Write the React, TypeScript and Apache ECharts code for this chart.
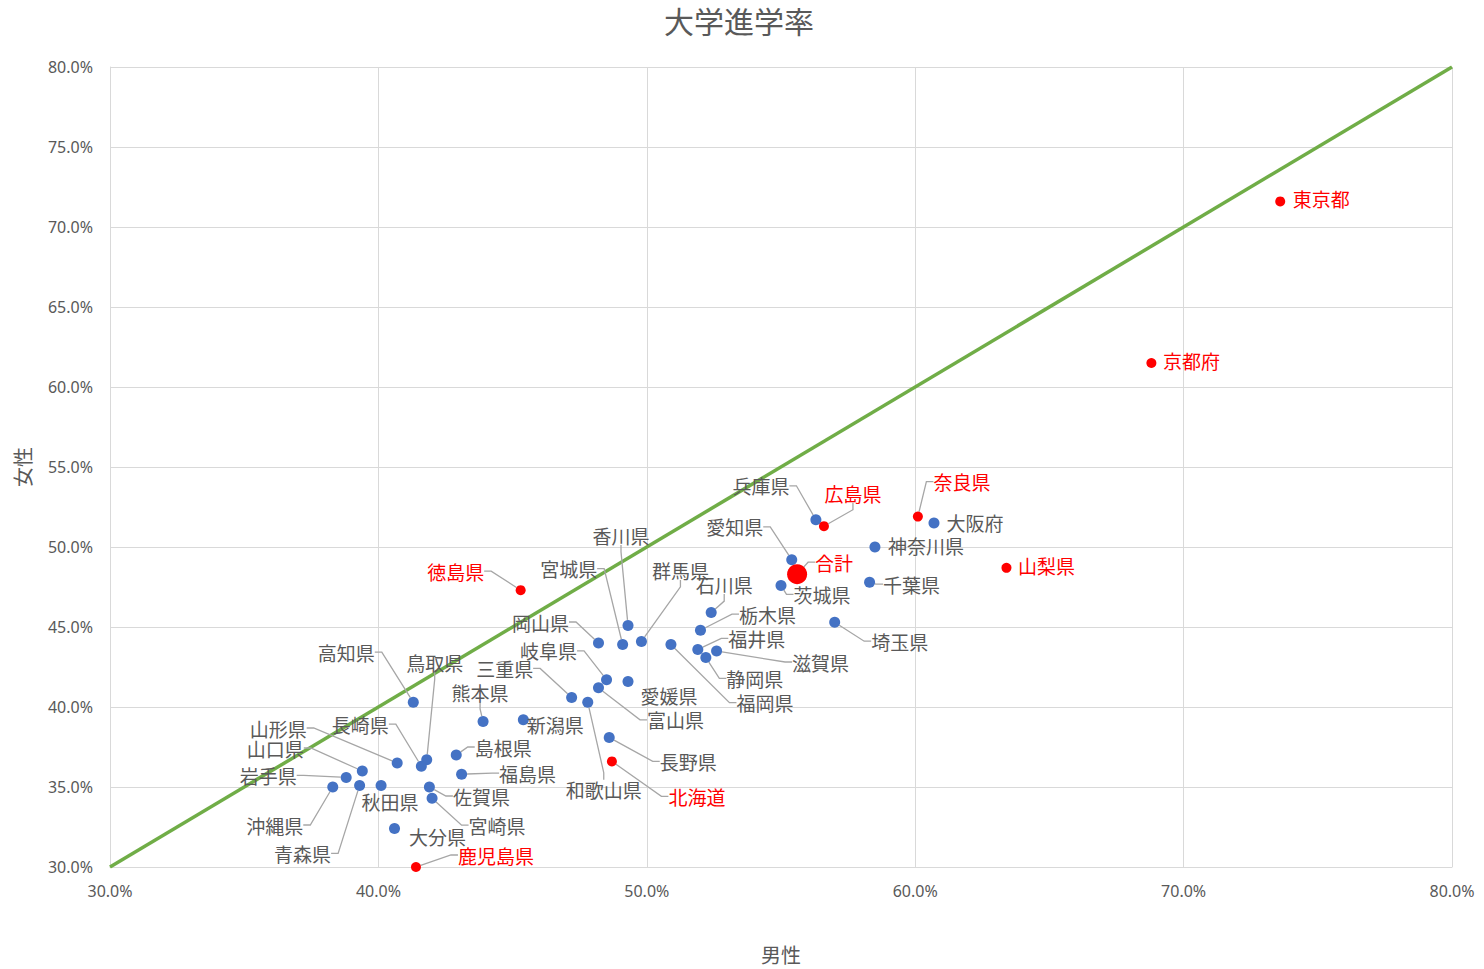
import React, { useEffect, useRef } from "react";
import * as echarts from "echarts";

// ---- data ----
const prefectures = [
  "北海道", "青森県", "岩手県", "宮城県", "秋田県", "山形県", "福島県", "茨城県", "栃木県", "群馬県",
  "埼玉県", "千葉県", "東京都", "神奈川県", "新潟県", "富山県", "石川県", "福井県", "山梨県", "長野県",
  "岐阜県", "静岡県", "愛知県", "三重県", "滋賀県", "京都府", "大阪府", "兵庫県", "奈良県", "和歌山県",
  "鳥取県", "島根県", "岡山県", "広島県", "山口県", "徳島県", "香川県", "愛媛県", "高知県", "福岡県",
  "佐賀県", "長崎県", "熊本県", "大分県", "宮崎県", "鹿児島県", "沖縄県", "合計",
];
// 男性 (x) 進学率 %
const maleRates = [
  48.7, 39.3, 38.8, 49.1, 40.1, 40.7, 43.1, 55.0, 52.0, 49.8,
  57.0, 58.3, 73.6, 58.5, 45.4, 48.2, 52.4, 51.9, 63.4, 48.6,
  48.5, 52.2, 55.4, 47.2, 52.6, 68.8, 60.7, 56.3, 60.1, 47.8,
  41.8, 42.9, 48.2, 56.6, 39.4, 45.3, 49.3, 49.3, 41.3, 50.9,
  41.9, 41.6, 43.9, 40.6, 42.0, 41.4, 38.3, 55.6,
];
// 女性 (y) 進学率 %
const femaleRates = [
  36.6, 35.1, 35.6, 43.9, 35.1, 36.5, 35.8, 47.6, 44.8, 44.1,
  45.3, 47.8, 71.6, 50.0, 39.2, 41.2, 45.9, 43.6, 48.7, 38.1,
  41.7, 43.1, 49.2, 40.6, 43.5, 61.5, 51.5, 51.7, 51.9, 40.3,
  36.7, 37.0, 44.0, 51.3, 36.0, 47.3, 45.1, 41.6, 40.3, 43.9,
  35.0, 36.3, 39.1, 32.4, 34.3, 30.0, 35.0, 48.3,
];
const highlighted = ["北海道", "東京都", "山梨県", "京都府", "奈良県", "広島県", "徳島県", "鹿児島県", "合計"];
const totalName = "合計";
const diagonal = [[30, 30], [80, 80]];

// label offsets from point (px) and labels drawn without leader lines
const labelOffsets: Record<string, [number, number]> = {
  "東京都": [41, -1], "京都府": [40, -1], "奈良県": [44, -33], "大阪府": [41, 1],
  "広島県": [29, -31], "兵庫県": [-55, -32], "愛知県": [-57, -31], "合計": [37, -10],
  "神奈川県": [51, 0], "千葉県": [42, 4], "山梨県": [40, 0], "茨城県": [41, 11],
  "埼玉県": [65, 21], "石川県": [13, -26], "栃木県": [67, -14], "福井県": [59, -9],
  "滋賀県": [104, 13], "静岡県": [49, 23], "福岡県": [94, 60], "群馬県": [39, -69],
  "香川県": [-7, -88], "宮城県": [-54, -74], "徳島県": [-65, -17], "岡山県": [-58, -19],
  "岐阜県": [-58, -27], "三重県": [-67, -27], "愛媛県": [41, 16], "富山県": [77, 34],
  "和歌山県": [16, 89], "長野県": [79, 26], "北海道": [85, 37], "新潟県": [32, 7],
  "熊本県": [-3, -27], "鳥取県": [8, -95], "高知県": [-67, -48], "山形県": [-119, -33],
  "長崎県": [-61, -40], "山口県": [-87, -21], "岩手県": [-78, 0], "沖縄県": [-58, 40],
  "青森県": [-57, 70], "秋田県": [9, 18], "島根県": [47, -6], "福島県": [66, 1],
  "佐賀県": [52, 11], "宮崎県": [65, 29], "大分県": [43, 10], "鹿児島県": [80, -10],
};
const noLeader = ["東京都", "京都府", "大阪府", "神奈川県", "山梨県", "愛媛県", "新潟県", "秋田県", "大分県"];

const BLUE = "#4472C4";
const RED = "#FF0000";
const GREY = "#595959";
const CJK = '"Noto Sans CJK JP", "Noto Sans", sans-serif';

export default function App() {
  const ref = useRef<HTMLDivElement>(null);
  useEffect(() => {
    if (!ref.current) return;
    const chart = echarts.init(ref.current, undefined, { renderer: "svg" });
    const points = prefectures.map((name, i) => {
      const red = highlighted.includes(name);
      return {
        name,
        value: [maleRates[i], femaleRates[i]],
        symbolSize: name === totalName ? 20 : red ? 10 : 11,
        itemStyle: { color: red ? RED : BLUE, opacity: 1 },
        label: { color: red ? RED : GREY },
        labelLine: { show: !noLeader.includes(name) },
      };
    });
    chart.setOption({
      animation: false,
      title: {
        text: "大学進学率",
        left: 659,
        top: 3,
        padding: [2, 5],
        textStyle: { color: GREY, fontSize: 30, fontWeight: "normal", fontFamily: CJK },
      },
      grid: { left: 110, right: 32, top: 67, bottom: 102 },
      xAxis: {
        type: "value",
        min: 30,
        max: 80,
        interval: 10,
        name: "男性",
        nameLocation: "middle",
        nameGap: 77,
        nameTextStyle: { color: GREY, fontSize: 20, fontFamily: CJK },
        axisLine: { show: true, lineStyle: { color: "#D9D9D9" } },
        axisTick: { show: false },
        splitLine: { show: true, lineStyle: { color: "#D9D9D9", width: 1 } },
        axisLabel: {
          color: GREY,
          fontSize: 16,
          fontFamily: '"Noto Sans", sans-serif',
          margin: 16,
          formatter: (v: number) => v.toFixed(1) + "%",
        },
      },
      yAxis: {
        type: "value",
        min: 30,
        max: 80,
        interval: 5,
        name: "女性",
        nameLocation: "middle",
        nameGap: 78,
        nameTextStyle: { color: GREY, fontSize: 20, fontFamily: CJK },
        axisLine: { show: true, lineStyle: { color: "#D9D9D9" } },
        axisTick: { show: false },
        splitLine: { show: true, lineStyle: { color: "#D9D9D9", width: 1 } },
        axisLabel: {
          color: GREY,
          fontSize: 16,
          fontFamily: '"Noto Sans", sans-serif',
          margin: 17,
          formatter: (v: number) => v.toFixed(1) + "%",
        },
      },
      series: [
        {
          type: "line",
          data: diagonal,
          symbol: "none",
          z: 1,
          silent: true,
          lineStyle: { color: "#70AD47", width: 3.5 },
        },
        {
          type: "scatter",
          z: 3,
          clip: false,
          data: points,
          label: {
            show: true,
            position: "inside",
            align: "center",
            verticalAlign: "middle",
            fontSize: 19,
            fontFamily: CJK,
            textBorderWidth: 0,
            padding: [0, 2],
            formatter: (p: any) => p.name,
          },
          labelLine: {
            show: true,
            length2: 7,
            lineStyle: { color: "#A6A6A6", width: 1.3 },
          },
          labelLayout: (params: any) => {
            const name = prefectures[params.dataIndex];
            const off = labelOffsets[name] || [0, 0];
            return { dx: off[0], dy: off[1] - 2, hideOverlap: false };
          },
        },
      ],
    });
    return () => chart.dispose();
  }, []);
  return (
    <div
      ref={ref}
      style={{ position: "fixed", left: 0, top: 0, width: 1484, height: 969, background: "#fff" }}
    />
  );
}
